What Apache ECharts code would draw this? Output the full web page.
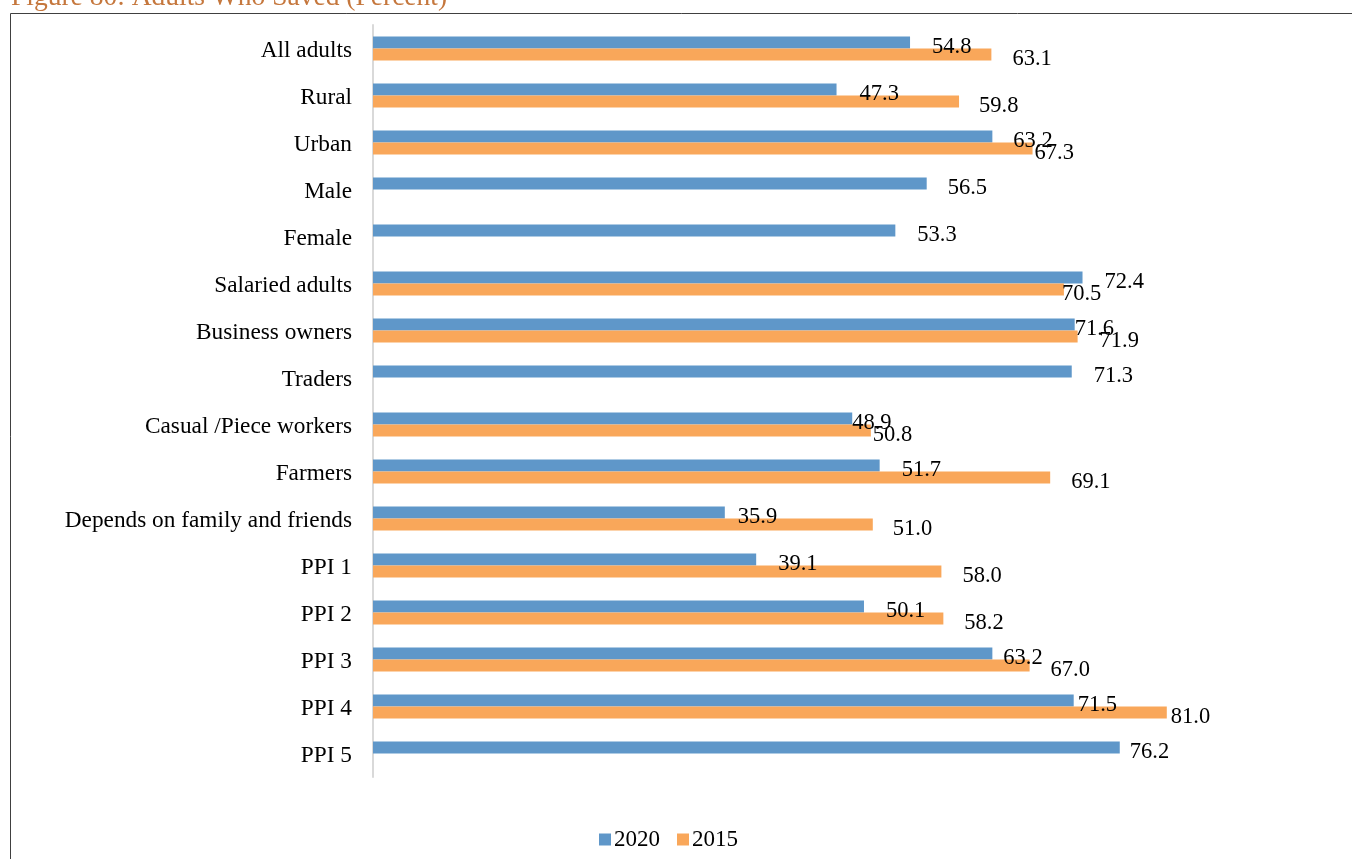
<!DOCTYPE html>
<html>
<head>
<meta charset="utf-8">
<script src="https://cdn.jsdelivr.net/npm/echarts@6/dist/echarts.min.js"></script>
<style>html,body{margin:0;padding:0;background:#fff}#c{width:1352px;height:859px}</style>
</head>
<body>
<div id="c"></div>
<script>
const categories = ["All adults","Rural","Urban","Male","Female","Salaried adults","Business owners","Traders","Casual /Piece workers","Farmers","Depends on family and friends","PPI 1","PPI 2","PPI 3","PPI 4","PPI 5"];
const values2020 = [54.8,47.3,63.2,56.5,53.3,72.4,71.6,71.3,48.9,51.7,35.9,39.1,50.1,63.2,71.5,76.2];
const values2015 = [63.1,59.8,67.3,null,null,70.5,71.9,null,50.8,69.1,51.0,58.0,58.2,67.0,81.0,null];
const seriesNames = ["2020","2015"];

// label nudges (style only): gap between bar end and label text
const gap2020 = [22,23,21,21,22,22,0,22,0,22,13,22,22,11,4,10];
const gap2015 = [21,20,2,0,0,-2,22,0,2,21,20,21,21,21,4,0];

const FONT = "Liberation Serif";
const FS = 22.5;
function mk(vals, gaps, dy){
  return vals.map((v,i)=> v==null ? null : {value:v, label:{distance:gaps[i], offset:[0,dy]}});
}
const chart = echarts.init(document.getElementById('c'), null, {renderer:'canvas'});
chart.setOption({
  animation:false,
  backgroundColor:'#fff',
  title:{text:'Figure 80: Adults Who Saved (Percent)', left:6, top:-21,
    textStyle:{fontFamily:FONT, fontSize:27.5, fontWeight:'normal', color:'#c5773d'}},
  graphic:[{type:'rect', shape:{x:10.5,y:13.5,width:1400,height:900}, style:{fill:null, stroke:'#404040', lineWidth:1}, silent:true, z:-1}],
  legend:{left:594, top:823, itemWidth:12, itemHeight:12, itemGap:17, icon:'rect',
    textStyle:{fontFamily:FONT, fontSize:23, color:'#000', padding:[0,0,0,-2]},
    data:seriesNames},
  grid:{left:373, top:25, width:882, height:752},
  xAxis:{type:'value', min:0, max:90, show:false, splitLine:{show:false}},
  yAxis:{type:'category', data:categories, inverse:true,
    axisLine:{show:true, lineStyle:{color:'#d9d9d9', width:2}},
    axisTick:{show:false},
    axisLabel:{margin:21, formatter:v=>'{a|'+v+'}',
      rich:{a:{fontFamily:FONT, fontSize:23.3, color:'#000', padding:[4,0,0,0]}}}},
  series:[
    {name:seriesNames[0], type:'bar', data:mk(values2020,gap2020,5), barWidth:12, barGap:'0%',
      itemStyle:{color:'#5f97c9'},
      label:{show:true, position:'right', fontFamily:FONT, fontSize:FS, color:'#000', formatter:p=>p.value.toFixed(1)}},
    {name:seriesNames[1], type:'bar', data:mk(values2015,gap2015,5), barWidth:12, barGap:'0%',
      itemStyle:{color:'#f9a75a'},
      label:{show:true, position:'right', fontFamily:FONT, fontSize:FS, color:'#000', formatter:p=>p.value.toFixed(1)}}
  ]
});
</script>
</body>
</html>
